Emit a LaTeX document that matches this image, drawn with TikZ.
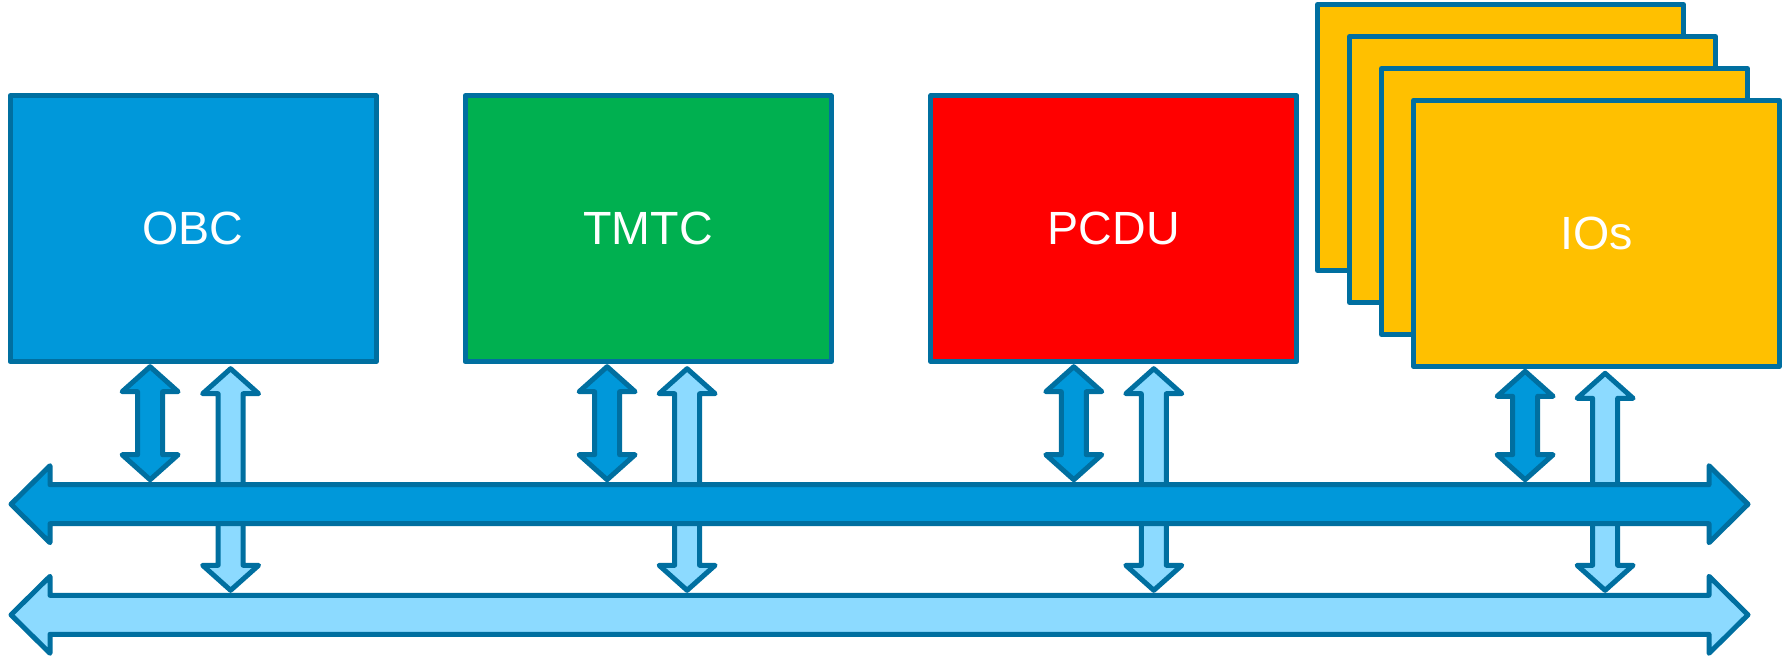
\documentclass[tikz,border=0pt]{standalone}
\usepackage{fontspec}
\setmainfont{Liberation Sans}
\usetikzlibrary{calc}

\definecolor{edgeblue}{RGB}{0,111,160}
\definecolor{obcblue}{RGB}{0,152,218}
\definecolor{tmtcgreen}{RGB}{0,176,80}
\definecolor{pcdured}{RGB}{255,0,0}
\definecolor{ioyellow}{RGB}{255,192,0}
\definecolor{buslight}{RGB}{140,218,255}

\tikzset{
  unit/.style={draw=edgeblue, line width=2.5pt, line join=round, minimum width=183pt,
    minimum height=133pt, text=white, font=\fontsize{23.3}{28}\selectfont},
  link/.style={draw=edgeblue, line width=2.5pt, line join=round},
}

% vertical double arrow: fill, upper tip, lower tip
\newcommand{\vlink}[3]{%
  \draw[link,fill=#1] (#2) -- ++(28,25) -- ++(-15.5,0) -- ($(#3)+(12.5,-25)$) -- ++(15.5,0) -- (#3)
    -- ++(-28,-25) -- ++(15.5,0) -- ($(#2)+(-12.5,25)$) -- ++(-15.5,0) -- cycle;}
% horizontal bus arrow: fill, west tip, east tip
\newcommand{\busarrow}[3]{%
  \draw[link,fill=#1] (#2) -- ++(39,-38.5) -- ++(0,19) -- ($(#3)+(-39,-19.5)$) -- ++(0,-19) -- (#3)
    -- ++(-39,38.5) -- ++(0,-19) -- ($(#2)+(39,19.5)$) -- ++(0,19) -- cycle;}

\begin{document}
\begin{tikzpicture}[x=0.5pt,y=-0.5pt]
\useasboundingbox (0,0) rectangle (1787,659);
% Units
\node[unit, fill=obcblue] (obc) at (193.1,228.7) {OBC};
\node[unit, fill=tmtcgreen] (tmtc) at (648.1,228.7) {TMTC};
\node[unit, fill=pcdured] (pcdu) at (1113.8,228.7) {PCDU};
\foreach \i in {0,1,2} {\node[unit, fill=ioyellow] (io\i) at (1500.5+32*\i,137.5+32*\i) {};}
\node[unit, fill=ioyellow] (ios) at (1596.6,233.3) {IOs};
% Bus ends
\coordinate (dbus-w) at (11,504.2);
\coordinate (dbus-e) at (1748,504.2);
\coordinate (dbus-n) at (0,479.7);
\coordinate (lbus-w) at (11,614.8);
\coordinate (lbus-e) at (1748,614.8);
\coordinate (lbus-n) at (0,590.3);
% Light links, under the main bus
\foreach \b/\l in {obc/37.5, tmtc/39, pcdu/40, ios/8.5} {
  \coordinate (\b-lt) at ($(\b.south)+(\l,4.5)$);
  \coordinate (\b-lb) at (\b-lt |- lbus-n);
  \vlink{buslight}{\b-lt}{\b-lb}
}
% Buses
\busarrow{obcblue}{dbus-w}{dbus-e}
\busarrow{buslight}{lbus-w}{lbus-e}
% Main links
\foreach \b/\d in {obc/-43, tmtc/-41, pcdu/-40, ios/-71.5} {
  \coordinate (\b-dt) at ($(\b.south)+(\d,2.5)$);
  \coordinate (\b-db) at (\b-dt |- dbus-n);
  \vlink{obcblue}{\b-dt}{\b-db}
}
\end{tikzpicture}
\end{document}
